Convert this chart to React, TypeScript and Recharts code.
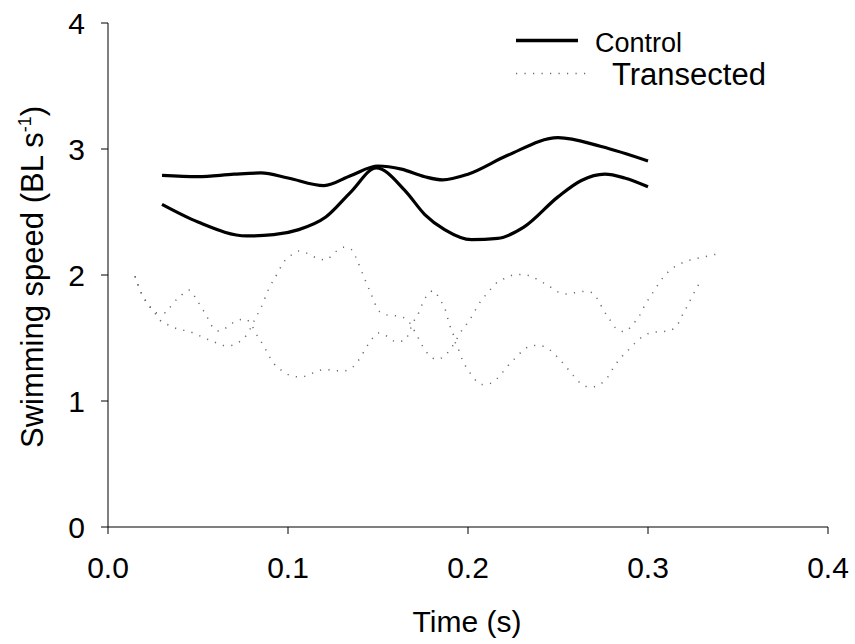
import React from 'react';
import { LineChart, Line, XAxis, YAxis, Legend } from 'recharts';

if (typeof document !== 'undefined') {
  document.body.style.margin = '0';
}

const FONT = '"Liberation Sans", Arial, Helvetica, sans-serif';

const xTicks = [0, 0.1, 0.2, 0.3, 0.4];
const yTicks = [0, 1, 2, 3, 4];
const seriesNames = ['Control', 'Transected'];

// Control, upper trace [time, speed]
const controlA: [number, number][] = [
  [0.03, 2.79], [0.05, 2.78], [0.07, 2.8], [0.085, 2.81], [0.1, 2.77], [0.12, 2.71],
  [0.135, 2.79], [0.15, 2.865], [0.163, 2.84], [0.176, 2.78], [0.186, 2.755], [0.2, 2.8],
  [0.222, 2.95], [0.25, 3.09], [0.274, 3.02], [0.3, 2.905],
];

// Control, lower trace
const controlB: [number, number][] = [
  [0.03, 2.56], [0.05, 2.42], [0.077, 2.31], [0.092, 2.32], [0.106, 2.36], [0.121, 2.46],
  [0.135, 2.66], [0.149, 2.85], [0.165, 2.67], [0.176, 2.48], [0.187, 2.36], [0.202, 2.28],
  [0.2165, 2.29], [0.231, 2.38], [0.25, 2.62], [0.263, 2.75], [0.276, 2.8], [0.287, 2.77],
  [0.3, 2.7],
];

// Transected, trace A
const transectedA: [number, number][] = [
  [0.015, 1.99], [0.0184, 1.86], [0.0216, 1.78], [0.025, 1.72], [0.029, 1.64], [0.034, 1.6],
  [0.039, 1.57], [0.0443, 1.555], [0.049, 1.53], [0.0536, 1.5], [0.0588, 1.47], [0.064, 1.44],
  [0.068, 1.44], [0.073, 1.47], [0.0773, 1.53], [0.082, 1.66], [0.085, 1.74], [0.089, 1.88],
  [0.0944, 2.02], [0.097, 2.09], [0.102, 2.16], [0.106, 2.19], [0.111, 2.17], [0.1166, 2.13],
  [0.121, 2.12], [0.126, 2.18], [0.131, 2.22], [0.1355, 2.2], [0.138, 2.13], [0.142, 1.99],
  [0.146, 1.855], [0.1508, 1.71], [0.156, 1.68], [0.1607, 1.675], [0.1657, 1.65], [0.172, 1.51],
  [0.1746, 1.44], [0.178, 1.37], [0.1827, 1.33], [0.1875, 1.365], [0.1916, 1.44], [0.197, 1.57],
  [0.2008, 1.64], [0.2036, 1.71], [0.207, 1.79], [0.211, 1.86], [0.2153, 1.93], [0.22, 1.97],
  [0.225, 2.0], [0.23, 2.005], [0.235, 1.99], [0.2397, 1.955], [0.2447, 1.915], [0.2493, 1.87],
  [0.2545, 1.85], [0.2596, 1.86], [0.2643, 1.87], [0.269, 1.86], [0.2727, 1.79], [0.2753, 1.72],
  [0.2786, 1.65], [0.282, 1.58], [0.287, 1.55], [0.2916, 1.61], [0.295, 1.67], [0.2975, 1.74],
  [0.3004, 1.81], [0.3036, 1.88], [0.3068, 1.95], [0.3116, 2.03], [0.3166, 2.08], [0.3216, 2.11],
  [0.3264, 2.13], [0.3314, 2.145], [0.336, 2.16], [0.3407, 2.17],
];

// Transected, trace B
const transectedB: [number, number][] = [
  [0.015, 1.99], [0.0184, 1.86], [0.0216, 1.78], [0.025, 1.72], [0.027, 1.7], [0.032, 1.7],
  [0.0357, 1.77], [0.04, 1.83], [0.0453, 1.88], [0.049, 1.81], [0.052, 1.74], [0.055, 1.67],
  [0.057, 1.61], [0.062, 1.555], [0.0666, 1.59], [0.0716, 1.64], [0.0764, 1.65], [0.08, 1.595],
  [0.0832, 1.51], [0.0864, 1.44], [0.089, 1.37], [0.092, 1.3], [0.0967, 1.24], [0.1018, 1.2],
  [0.107, 1.19], [0.112, 1.21], [0.1166, 1.24], [0.121, 1.25], [0.126, 1.24], [0.131, 1.24],
  [0.136, 1.27], [0.14, 1.34], [0.1425, 1.4], [0.146, 1.48], [0.1504, 1.54], [0.1555, 1.51],
  [0.16, 1.47], [0.1647, 1.48], [0.1675, 1.55], [0.169, 1.61], [0.172, 1.68], [0.174, 1.75],
  [0.1768, 1.83], [0.181, 1.875], [0.1845, 1.8], [0.187, 1.74], [0.19, 1.595], [0.192, 1.52],
  [0.193, 1.46], [0.1953, 1.39], [0.197, 1.32], [0.2, 1.25], [0.203, 1.185], [0.208, 1.13],
  [0.2125, 1.14], [0.217, 1.19], [0.2216, 1.27], [0.2255, 1.33], [0.2305, 1.4], [0.2355, 1.44],
  [0.24, 1.44], [0.245, 1.41], [0.2496, 1.35], [0.254, 1.28], [0.2586, 1.2], [0.263, 1.135],
  [0.268, 1.11], [0.273, 1.13], [0.2777, 1.19], [0.281, 1.27], [0.2847, 1.34], [0.2888, 1.4],
  [0.2935, 1.47], [0.298, 1.52], [0.3027, 1.545], [0.3073, 1.55], [0.3123, 1.56], [0.317, 1.62],
  [0.3197, 1.7], [0.3221, 1.76], [0.3245, 1.83], [0.3268, 1.89], [0.3296, 1.965],
];

const toRows = (pts: [number, number][]) => pts.map(([x, y]) => ({ x, y }));

const DOT_DASH = '1.2 7.3';
const DOT_COLOR = '#6a6a6a';

const renderLegend = () => (
  <svg width={855} height={100} style={{ display: 'block' }}>
    <line x1={516} y1={40.5} x2={578} y2={40.5} stroke="#000" strokeWidth={3.6} />
    <text x={595} y={51.5} fontSize={27} fontFamily={FONT} fill="#000">
      {seriesNames[0]}
    </text>
    <line
      x1={516}
      y1={73.5}
      x2={590}
      y2={73.5}
      stroke={DOT_COLOR}
      strokeWidth={1.5}
      strokeDasharray={DOT_DASH}
    />
    <text x={612} y={85} fontSize={31} fontFamily={FONT} fill="#000">
      {seriesNames[1]}
    </text>
  </svg>
);

const renderYTitle = () => (
  <text
    x={43}
    y={448}
    transform="rotate(-90, 43, 448)"
    textAnchor="start"
    fontSize={31}
    fontFamily={FONT}
    fill="#000"
  >
    Swimming speed (BL s
    <tspan dy={-12} fontSize={18}>-1</tspan>
    <tspan dy={12}>)</tspan>
  </text>
);

const renderXTitle = () => (
  <text x={467} y={632} textAnchor="middle" fontSize={30} fontFamily={FONT} fill="#000">
    Time (s)
  </text>
);

export default function App() {
  const tickStyle = { fill: '#000', fontSize: 30, fontFamily: FONT };
  return (
    <div style={{ width: 855, height: 644, background: '#fff', position: 'relative' }}>
      <LineChart
        width={855}
        height={644}
        margin={{ top: 23, right: 27, bottom: 0, left: 0 }}
        style={{ fontFamily: FONT }}
      >
        <XAxis
          dataKey="x"
          type="number"
          domain={[0, 0.4]}
          ticks={xTicks}
          interval={0}
          allowDataOverflow
          tickFormatter={(v: number) => v.toFixed(1)}
          tickSize={7}
          tickMargin={23}
          height={117}
          stroke="#000"
          tick={tickStyle}
          label={renderXTitle}
        />
        <YAxis
          type="number"
          domain={[0, 4]}
          ticks={yTicks}
          interval={0}
          allowDataOverflow
          tickSize={7}
          tickMargin={16}
          width={108}
          stroke="#000"
          tick={tickStyle}
          label={renderYTitle}
        />
        <Legend
          verticalAlign="middle"
          align="center"
          layout="horizontal"
          wrapperStyle={{ position: 'absolute', left: 0, top: 0, width: 855, height: 100 }}
          content={renderLegend}
        />
        <Line
          data={toRows(controlA)}
          dataKey="y"
          name="Control"
          type="monotone"
          stroke="#000"
          strokeWidth={3.2}
          dot={false}
          activeDot={false}
          isAnimationActive={false}
        />
        <Line
          data={toRows(controlB)}
          dataKey="y"
          name="Control B"
          type="monotone"
          stroke="#000"
          strokeWidth={3.2}
          dot={false}
          activeDot={false}
          isAnimationActive={false}
          legendType="none"
        />
        <Line
          data={toRows(transectedA)}
          dataKey="y"
          name="Transected"
          type="monotone"
          stroke={DOT_COLOR}
          strokeWidth={1.5}
          strokeDasharray={DOT_DASH}
          dot={false}
          activeDot={false}
          isAnimationActive={false}
        />
        <Line
          data={toRows(transectedB)}
          dataKey="y"
          name="Transected B"
          type="monotone"
          stroke={DOT_COLOR}
          strokeWidth={1.5}
          strokeDasharray={DOT_DASH}
          dot={false}
          activeDot={false}
          isAnimationActive={false}
          legendType="none"
        />
      </LineChart>
    </div>
  );
}
